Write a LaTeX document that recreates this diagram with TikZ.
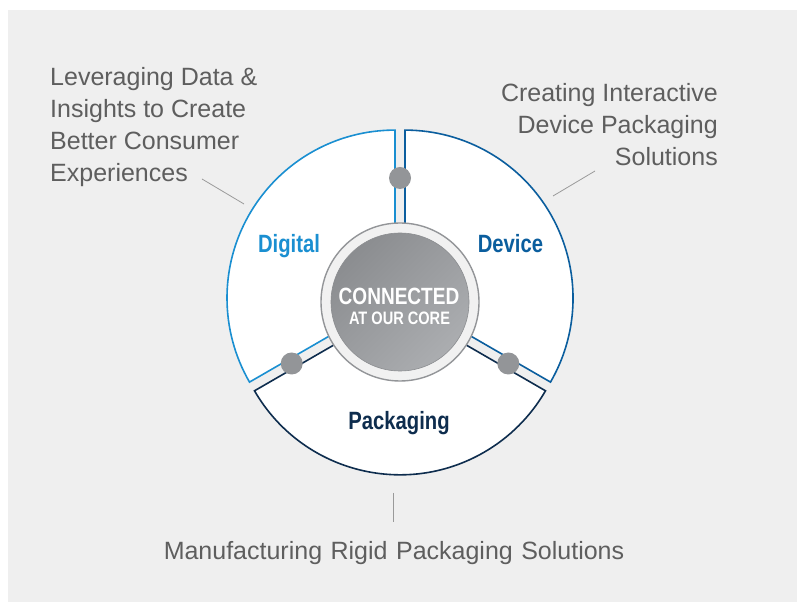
\documentclass[tikz,border=0pt]{standalone}
\usepackage{fontspec}
\setmainfont{Liberation Sans}
\newfontfamily\labelfont{Liberation Sans Bold}[FakeStretch=0.81]
\usepackage{tikz}

\definecolor{bggray}{HTML}{EFEFEF}
\definecolor{textgray}{HTML}{5E5E5E}
\definecolor{linegray}{HTML}{9A9A9A}
\definecolor{dotgray}{HTML}{939598}
\definecolor{ringgray}{HTML}{F1F1F1}
\definecolor{coredark}{HTML}{8B8D90}
\definecolor{corelight}{HTML}{ABADB0}
\definecolor{digitalblue}{HTML}{1A8FD1}
\definecolor{deviceblue}{HTML}{0B5E9E}
\definecolor{packnavy}{HTML}{0E2D4E}

\begin{document}
\begin{tikzpicture}[x=1pt,y=1pt,
	sector/.style={fill=white, line width=1.6pt, line join=miter},
	hub/.style={circle, fill=dotgray, minimum size=22pt, inner sep=0pt},
	blurb/.style={font=\fontsize{25}{32}\selectfont, text=textgray, inner sep=0pt},
	seglabel/.style={font=\labelfont\fontsize{25}{30}\selectfont, inner sep=0pt, anchor=base},
	corelabel/.style={font=\labelfont, text=white, inner sep=0pt, anchor=base},
	leader/.style={draw=linegray, line width=0.8pt}]
			
			% Фон
			\useasboundingbox (0,0) rectangle (797,602);
			\fill[bggray] (8,0) rectangle (797,592);
			
			% Три сектора, чуть раздвинутые от центра
			\filldraw[sector, draw=digitalblue] (395,303.9) -- ++(90:168) arc[start angle=90, end angle=210, radius=168] -- cycle;
			\filldraw[sector, draw=deviceblue] (405,303.9) -- ++(-30:168) arc[start angle=-30, end angle=90, radius=168] -- cycle;
			\filldraw[sector, draw=packnavy] (400,295.2) -- ++(210:168) arc[start angle=210, end angle=330, radius=168] -- cycle;
			
			% Ядро
			\filldraw[fill=ringgray, draw=dotgray, line width=1.4pt] (400,300) circle [radius=79];
			\shade[top color=coredark, bottom color=corelight, shading angle=45] (400,300) circle [radius=69];
			\draw[coredark, line width=0.6pt] (400,300) circle [radius=69];
			\node[corelabel, font=\labelfont\fontsize{23.5}{28}\selectfont] (core) at (399,297) {CONNECTED};
			\node[corelabel, font=\labelfont\fontsize{18}{22}\selectfont] (coresub) at (399.5,277) {AT OUR CORE};
			
			% Точки в каналах
			\node[hub] (topdot) at (400,424) {};
			\node[hub] (leftdot) at (291.7,238.5) {};
			\node[hub] (rightdot) at (508.3,238.5) {};
			
			% Подписи секторов
			\node[seglabel, text=digitalblue] (digital) at (289,349) {Digital};
			\node[seglabel, text=deviceblue] (device) at (510.5,349) {Device};
			\node[seglabel, text=packnavy] (packaging) at (399,172) {Packaging};
			
			% Пояснения (base = последняя строка)
			\node[blurb, anchor=base west, align=left] (digitaltext) at (50,420) {Leveraging Data \&\\Insights to Create\\Better Consumer\\Experiences};
			\node[blurb, anchor=base east, align=right] (devicetext) at (718,436) {Creating Interactive\\Device Packaging\\Solutions};
			\node[blurb, anchor=base] (packtext) at (394,42) {\spaceskip=0.34em Manufacturing Rigid Packaging Solutions};
			
			% Выноски
			\coordinate (digitalfrom) at (202,423);
			\coordinate (digitalto) at (244,398);
			\coordinate (devicefrom) at (595,431);
			\coordinate (deviceto) at (553,406);
			\coordinate (packfrom) at (393,109);
			\coordinate (packto) at (393,80);
			\draw[leader] (digitalfrom) -- (digitalto);
			\draw[leader] (devicefrom) -- (deviceto);
			\draw[leader] (packfrom) -- (packto);
			
		\end{tikzpicture}
\end{document}
